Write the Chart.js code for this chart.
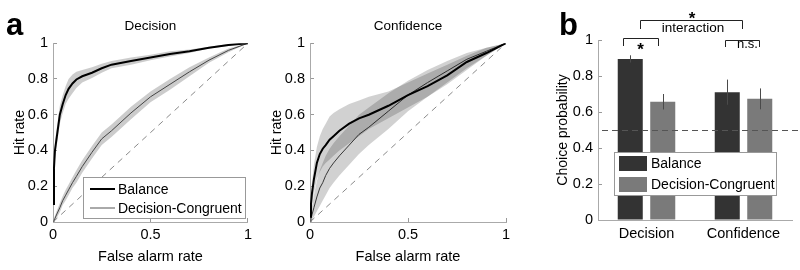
<!DOCTYPE html>
<html>
<head>
<meta charset="utf-8">
<script src="https://cdn.jsdelivr.net/npm/chart.js@4.4.0/dist/chart.umd.min.js"></script>
<style>
  body { margin: 0; background: #fff; }
  #wrap { position: relative; width: 800px; height: 270px; overflow: hidden; }
  canvas { position: absolute; top: 0; }
</style>
</head>
<body>
<div id="wrap">
  <canvas id="rocDecision" width="260" height="270" style="left:0"></canvas>
  <canvas id="rocConfidence" width="260" height="270" style="left:260px"></canvas>
  <canvas id="choiceProb" width="270" height="270" style="left:530px"></canvas>
</div>
<script>
// false alarm rate grid shared by every ROC curve
const FA_RATE = [0, 0.005, 0.01, 0.02, 0.035, 0.05, 0.065, 0.08, 0.1, 0.12, 0.15, 0.2, 0.25, 0.3, 0.4, 0.5, 0.6, 0.7, 0.8, 0.9, 1];

// Decision ROC (hit rate, mean and shaded band)
const DEC_BAL    = [0.10, 0.30, 0.40, 0.48, 0.60, 0.66, 0.71, 0.745, 0.775, 0.797, 0.815, 0.835, 0.86, 0.88, 0.90, 0.92, 0.94, 0.955, 0.975, 0.99, 1];
const DEC_BAL_HI = [0.12, 0.34, 0.45, 0.53, 0.65, 0.71, 0.76, 0.80, 0.825, 0.84, 0.85, 0.865, 0.885, 0.90, 0.92, 0.935, 0.955, 0.965, 0.98, 0.995, 1];
const DEC_BAL_LO = [0.08, 0.26, 0.35, 0.43, 0.55, 0.61, 0.66, 0.69, 0.72, 0.75, 0.78, 0.805, 0.835, 0.86, 0.88, 0.905, 0.925, 0.945, 0.97, 0.985, 1];
const DEC_CON    = [0, 0.01, 0.02, 0.045, 0.08, 0.12, 0.15, 0.18, 0.22, 0.255, 0.31, 0.39, 0.465, 0.51, 0.61, 0.70, 0.77, 0.84, 0.905, 0.96, 1];
const DEC_CON_HI = [0.005, 0.02, 0.035, 0.065, 0.105, 0.145, 0.18, 0.21, 0.25, 0.29, 0.345, 0.425, 0.50, 0.545, 0.645, 0.73, 0.80, 0.865, 0.92, 0.97, 1];
const DEC_CON_LO = [0, 0, 0.01, 0.025, 0.055, 0.095, 0.12, 0.15, 0.19, 0.22, 0.275, 0.355, 0.43, 0.475, 0.575, 0.67, 0.74, 0.815, 0.89, 0.95, 1];

// Confidence ROC
const CONF_BAL    = [0.03, 0.10, 0.16, 0.24, 0.33, 0.38, 0.41, 0.43, 0.46, 0.48, 0.51, 0.55, 0.58, 0.60, 0.65, 0.71, 0.76, 0.82, 0.895, 0.945, 1];
const CONF_BAL_HI = [0.05, 0.15, 0.22, 0.32, 0.42, 0.48, 0.52, 0.55, 0.59, 0.61, 0.63, 0.66, 0.68, 0.70, 0.73, 0.78, 0.83, 0.88, 0.93, 0.975, 1];
const CONF_BAL_LO = [0.01, 0.05, 0.10, 0.16, 0.24, 0.28, 0.31, 0.33, 0.35, 0.37, 0.40, 0.44, 0.48, 0.52, 0.58, 0.64, 0.70, 0.77, 0.85, 0.93, 1];
const CONF_CON    = [0, 0.02, 0.04, 0.08, 0.14, 0.19, 0.22, 0.26, 0.30, 0.33, 0.37, 0.43, 0.49, 0.53, 0.62, 0.71, 0.78, 0.845, 0.91, 0.955, 1];
const CONF_CON_HI = [0.01, 0.05, 0.09, 0.15, 0.23, 0.29, 0.33, 0.37, 0.41, 0.44, 0.48, 0.54, 0.60, 0.64, 0.72, 0.79, 0.85, 0.90, 0.945, 0.975, 1];
const CONF_CON_LO = [0, 0, 0.01, 0.03, 0.06, 0.09, 0.12, 0.15, 0.19, 0.22, 0.26, 0.32, 0.38, 0.43, 0.52, 0.62, 0.70, 0.78, 0.86, 0.93, 1];

// choice probability bars
const CP_CATEGORIES = ['Decision', 'Confidence'];
const CP_BALANCE = [0.895, 0.71];
const CP_BALANCE_ERR = [0.02, 0.07];
const CP_CONGRUENT = [0.657, 0.673];
const CP_CONGRUENT_ERR = [0.043, 0.058];
const CHANCE = 0.5;

const FONT = 'Liberation Sans, Arial, sans-serif';
Chart.defaults.font.family = FONT;
Chart.defaults.color = '#000';

const pts = arr => FA_RATE.map((x, i) => ({ x: x, y: arr[i] }));
// matlab style tick text: 0, 0.2, ..., 1
const tickText = v => String(Math.round(v * 100) / 100);

function axis(extra) {
  return Object.assign({
    grid: { drawOnChartArea: false, drawTicks: true, tickLength: -4, tickColor: '#999' },
    border: { color: '#aaa' }
  }, extra);
}

// panel letters
const letterPlugin = {
  id: 'letter',
  afterDraw(chart, args, opts) {
    const ctx = chart.ctx;
    ctx.save();
    ctx.font = 'bold 31px ' + FONT;
    ctx.fillStyle = '#000';
    ctx.textBaseline = 'alphabetic';
    ctx.fillText(opts.text, opts.x, opts.y);
    ctx.restore();
  }
};

// legend box drawn inside the plot, using dataset styles
const boxLegend = {
  id: 'boxLegend',
  afterDraw(chart, args, opts) {
    if (!opts.items) return;
    const ctx = chart.ctx;
    ctx.save();
    ctx.fillStyle = '#fff';
    ctx.fillRect(opts.x, opts.y, opts.w, opts.h);
    ctx.strokeStyle = '#999';
    ctx.lineWidth = 1;
    ctx.strokeRect(opts.x + 0.5, opts.y + 0.5, opts.w, opts.h);
    ctx.font = '14px ' + FONT;
    opts.items.forEach((it, i) => {
      const ds = chart.data.datasets[it.index];
      const cy = opts.y + opts.rowY[i];
      if (opts.patch) {
        ctx.fillStyle = ds.backgroundColor;
        ctx.fillRect(opts.x + 5, cy - 7.5, 28, 15);
        ctx.fillStyle = '#000';
        ctx.textBaseline = 'middle';
        ctx.fillText(ds.label, opts.x + 37, cy + 1);
      } else {
        ctx.strokeStyle = ds.borderColor;
        ctx.lineWidth = ds.borderWidth;
        ctx.beginPath();
        ctx.moveTo(opts.x + 7, cy);
        ctx.lineTo(opts.x + 32, cy);
        ctx.stroke();
        ctx.fillStyle = '#000';
        ctx.textBaseline = 'middle';
        ctx.fillText(ds.label, opts.x + 35, cy + 1);
      }
    });
    ctx.restore();
  }
};

function rocChart(id, title, curves, cfg) {
  const datasets = [];
  curves.forEach(c => {
    datasets.push({ data: pts(c.hi), fill: '+1', backgroundColor: c.band, borderColor: 'rgba(0,0,0,0)', borderWidth: 0, pointRadius: 0 });
    datasets.push({ data: pts(c.lo), fill: false, borderColor: 'rgba(0,0,0,0)', borderWidth: 0, pointRadius: 0 });
  });
  datasets.push({ data: [{ x: 0, y: 0 }, { x: 1, y: 1 }], borderColor: '#8a8a8a', borderWidth: 1, borderDash: [6, 5], pointRadius: 0, fill: false });
  const lineIdx = [];
  curves.forEach(c => {
    lineIdx.push(datasets.length);
    datasets.push({ label: c.label, data: pts(c.mean), borderColor: c.color, borderWidth: c.width, pointRadius: 0, fill: false, tension: 0 });
  });

  return new Chart(document.getElementById(id), {
    type: 'line',
    data: { datasets: datasets },
    options: {
      responsive: false,
      animation: false,
      layout: { padding: { left: 0, right: cfg.padRight, top: 0, bottom: 0 } },
      plugins: {
        colors: { enabled: false },
        legend: { display: false },
        tooltip: { enabled: false },
        title: {
          display: true, text: title, fullSize: false,
          font: { size: 13.5, weight: 'normal' }, color: '#000',
          padding: { top: 18, bottom: 9 }
        },
        letter: cfg.letter || {},
        boxLegend: cfg.legend ? Object.assign({ items: lineIdx.map(i => ({ index: i })) }, cfg.legend) : {}
      },
      scales: {
        x: axis({
          type: 'linear', min: 0, max: 1,
          ticks: { stepSize: 0.5, padding: 8, font: { size: 14.5 }, callback: tickText },
          title: { display: true, text: 'False alarm rate', font: { size: 14.5 }, padding: { top: 0, bottom: 4 } },
          afterFit: s => { s.height = 48; }
        }),
        y: axis({
          min: 0, max: 1,
          ticks: { stepSize: 0.2, padding: 9, font: { size: 14.5 }, callback: tickText },
          title: { display: true, text: 'Hit rate', font: { size: 14 }, padding: { top: cfg.yTitlePad, bottom: 0 } },
          afterFit: s => { s.width = cfg.yWidth; }
        })
      }
    },
    plugins: [letterPlugin, boxLegend]
  });
}

rocChart('rocDecision', 'Decision', [
  { label: 'Balance', mean: DEC_BAL, hi: DEC_BAL_HI, lo: DEC_BAL_LO, band: 'rgba(0,0,0,0.2)', color: '#000', width: 2 },
  { label: 'Decision-Congruent', mean: DEC_CON, hi: DEC_CON_HI, lo: DEC_CON_LO, band: 'rgba(0,0,0,0.2)', color: '#555', width: 1 }
], {
  yWidth: 53, padRight: 12, yTitlePad: 12,
  letter: { text: 'a', x: 6, y: 35 },
  legend: { x: 83, y: 177, w: 162, h: 41, rowY: [12, 31] }
});

rocChart('rocConfidence', 'Confidence', [
  { label: 'Balance', mean: CONF_BAL, hi: CONF_BAL_HI, lo: CONF_BAL_LO, band: 'rgba(0,0,0,0.18)', color: '#000', width: 2 },
  { label: 'Decision-Congruent', mean: CONF_CON, hi: CONF_CON_HI, lo: CONF_CON_LO, band: 'rgba(0,0,0,0.18)', color: '#444', width: 1 }
], { yWidth: 50, padRight: 14, yTitlePad: 9 });

// error bars, chance line and significance brackets for the bar panel
const barExtras = {
  id: 'barExtras',
  afterDatasetsDraw(chart) {
    const ctx = chart.ctx;
    const ys = chart.scales.y;
    const area = chart.chartArea;
    ctx.save();
    // chance level
    ctx.strokeStyle = '#555';
    ctx.lineWidth = 1;
    ctx.setLineDash([6, 4]);
    const yc = Math.round(ys.getPixelForValue(CHANCE)) + 0.5;
    ctx.beginPath();
    ctx.moveTo(area.left + 4, yc);
    ctx.lineTo(chart.width, yc);
    ctx.stroke();
    ctx.setLineDash([]);
    // error bars
    const errs = [CP_BALANCE_ERR, CP_CONGRUENT_ERR];
    chart.data.datasets.forEach((ds, di) => {
      const meta = chart.getDatasetMeta(di);
      meta.data.forEach((bar, j) => {
        const x = Math.round(bar.x) + 0.5;
        ctx.strokeStyle = '#4a4a4a';
        ctx.beginPath();
        ctx.moveTo(x, ys.getPixelForValue(ds.data[j] + errs[di][j]));
        ctx.lineTo(x, ys.getPixelForValue(ds.data[j] - errs[di][j]));
        ctx.stroke();
      });
    });
    ctx.restore();
  },
  afterDraw(chart) {
    const ctx = chart.ctx;
    const ys = chart.scales.y;
    const b = [chart.getDatasetMeta(0).data, chart.getDatasetMeta(1).data];
    const bracket = (x1, x2, top, leg) => {
      ctx.beginPath();
      ctx.moveTo(Math.round(x1) + 0.5, leg);
      ctx.lineTo(Math.round(x1) + 0.5, top + 0.5);
      ctx.lineTo(Math.round(x2) + 0.5, top + 0.5);
      ctx.lineTo(Math.round(x2) + 0.5, leg);
      ctx.stroke();
    };
    ctx.save();
    ctx.strokeStyle = '#222';
    ctx.lineWidth = 1;
    ctx.fillStyle = '#000';
    ctx.textAlign = 'center';
    ctx.textBaseline = 'alphabetic';
    const top1 = Math.round(ys.getPixelForValue(1.01));
    const top2 = Math.round(ys.getPixelForValue(1.0));
    const top3 = Math.round(ys.getPixelForValue(1.11));
    // decision: balance vs congruent
    bracket(b[0][0].x - 7, b[1][0].x - 5, top1, top1 + 8);
    ctx.font = 'bold 17px ' + FONT;
    ctx.fillText('*', (b[0][0].x + b[1][0].x) / 2 - 6, top1 + 17);
    // confidence: n.s.
    bracket(b[0][1].x - 2, b[1][1].x - 1, top2, top2 + 7);
    ctx.font = '13px ' + FONT;
    ctx.fillText('n.s.', (b[0][1].x + b[1][1].x) / 2 + 4, top2 + 8);
    // interaction
    bracket(b[1][0].x - 23, b[0][1].x + 15, top3, top3 + 9);
    ctx.font = '13.5px ' + FONT;
    ctx.fillText('interaction', (b[1][0].x + b[0][1].x) / 2 - 2, top3 + 11.5);
    ctx.font = 'bold 17px ' + FONT;
    ctx.fillText('*', (b[1][0].x + b[0][1].x) / 2 - 3, top3 + 4);
    ctx.restore();
  }
};

new Chart(document.getElementById('choiceProb'), {
  type: 'bar',
  data: {
    labels: CP_CATEGORIES,
    datasets: [
      { label: 'Balance', data: CP_BALANCE, backgroundColor: '#333333', categoryPercentage: 0.67, barPercentage: 0.77 },
      { label: 'Decision-Congruent', data: CP_CONGRUENT, backgroundColor: '#7a7a7a', categoryPercentage: 0.67, barPercentage: 0.77 }
    ]
  },
  options: {
    responsive: false,
    animation: false,
    layout: { padding: { left: 0, right: 8, top: 40, bottom: 0 } },
    plugins: {
      colors: { enabled: false },
      legend: { display: false },
      tooltip: { enabled: false },
      letter: { text: 'b', x: 29, y: 35 },
      boxLegend: { items: [{ index: 0 }, { index: 1 }], patch: true, x: 84, y: 152, w: 162, h: 43, rowY: [11.5, 32.5] }
    },
    scales: {
      x: {
        grid: { display: false, drawTicks: false },
        border: { color: '#aaa' },
        ticks: { padding: 5, font: { size: 14.5 } },
        afterFit: s => { s.height = 50; }
      },
      y: axis({
        min: 0, max: 1,
        ticks: { stepSize: 0.2, padding: 9, font: { size: 14.5 }, callback: tickText },
        title: { display: true, text: 'Choice probability', font: { size: 14 }, padding: { top: 25, bottom: 0 } },
        afterFit: s => { s.width = 68; }
      })
    }
  },
  plugins: [letterPlugin, boxLegend, barExtras]
});
</script>
</body>
</html>
